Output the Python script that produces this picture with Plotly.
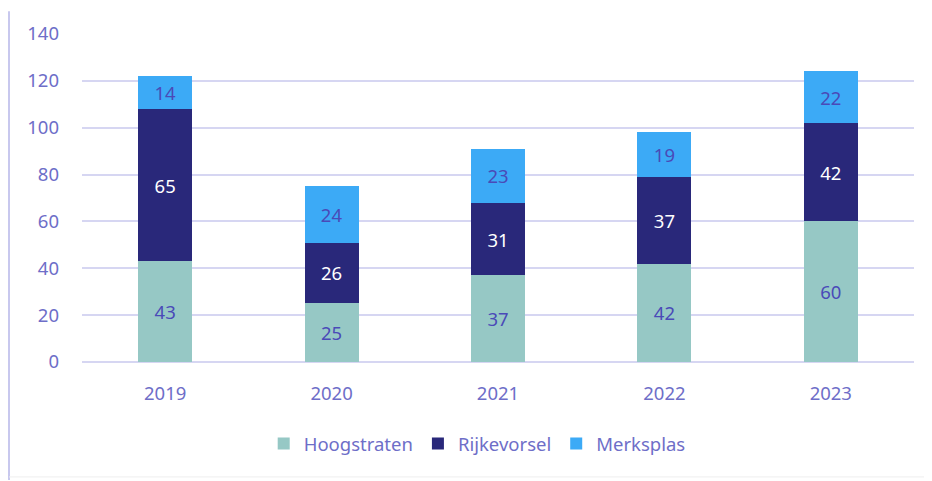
import plotly.graph_objects as go

years = ["2019", "2020", "2021", "2022", "2023"]
hoogstraten = [43, 25, 37, 42, 60]
rijkevorsel = [65, 26, 31, 37, 42]
merksplas = [14, 24, 23, 19, 22]
y_ticks = [0, 20, 40, 60, 80, 100, 120, 140]

label_color = "#4A4AB8"
tick_color = "#6E6EC8"
font_family = "Noto Sans, Open Sans, sans-serif"
fs = 18.5

fig = go.Figure()
series = [
    ("Hoogstraten", hoogstraten, "#96C8C5", label_color),
    ("Rijkevorsel", rijkevorsel, "#29287A", "#FFFFFF"),
    ("Merksplas", merksplas, "#3CAAF6", label_color),
]
for name, vals, color, tcol in series:
    fig.add_trace(go.Bar(
        name=name, x=years, y=vals, marker=dict(color=color, line=dict(width=0)),
        text=[str(v) for v in vals], textposition="inside", insidetextanchor="middle",
        textangle=0, textfont=dict(color=tcol, size=fs, family=font_family),
        constraintext="none",
    ))

# page body has an 8px margin; plot area placed at page x 82..914, y 31..362
fig.update_layout(
    barmode="stack",
    bargap=0.675,
    width=924, height=473,
    margin=dict(l=74, r=18, t=23, b=119),
    paper_bgcolor="white", plot_bgcolor="white",
    font=dict(family=font_family, color=tick_color, size=fs),
    legend=dict(orientation="h", x=0.475, xanchor="center", y=-0.25, yanchor="middle",
                font=dict(size=fs, color=tick_color), traceorder="normal",
                itemwidth=30),
    xaxis=dict(showgrid=False, showline=False, ticks="", tickfont=dict(size=fs, color=tick_color),
               ticklabelstandoff=18),
    yaxis=dict(range=[0, 140], tickvals=y_ticks, showgrid=True, gridcolor="#D6D6F2", gridwidth=1.5,
               zeroline=True, zerolinecolor="#D6D6F2", zerolinewidth=1.5,
               tickfont=dict(size=fs, color=tick_color), ticklabelstandoff=22),
    shapes=[
        dict(type="line", xref="paper", yref="paper", x0=-73 / 832, x1=-73 / 832,
             y0=-119 / 331, y1=1 + 23 / 331, line=dict(color="#C8C8EE", width=2)),
        dict(type="line", xref="paper", yref="paper", x0=-73 / 832, x1=1 + 18 / 832,
             y0=-116 / 331, y1=-116 / 331, line=dict(color="#EEEEEE", width=1)),
    ],
)

fig.write_html("out.html")
